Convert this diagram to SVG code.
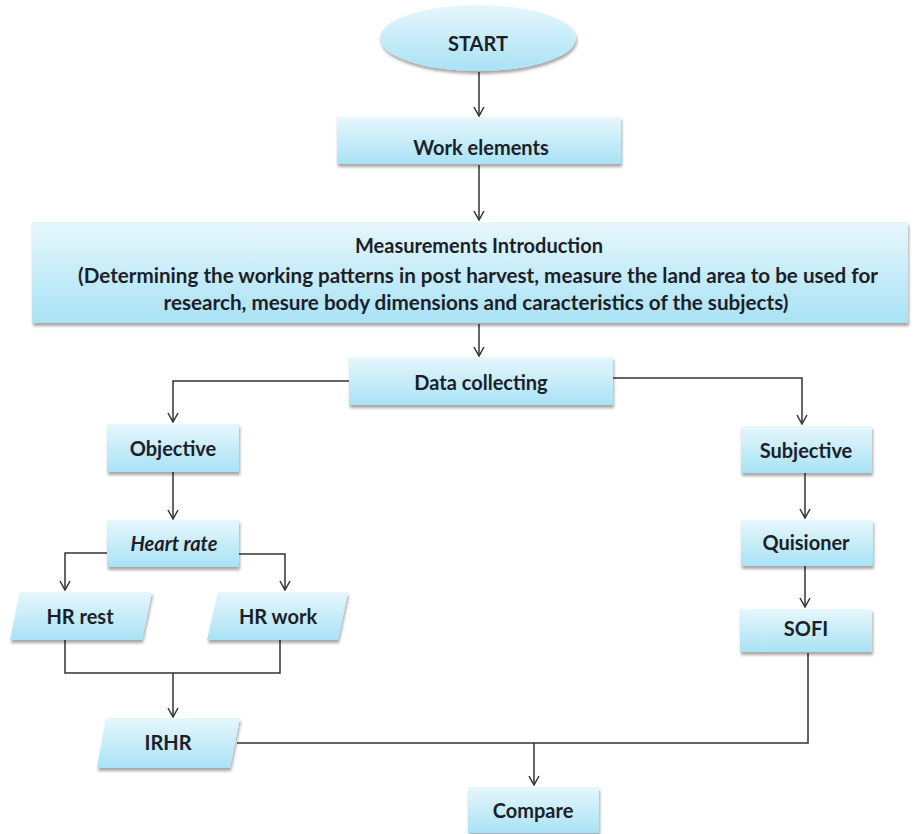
<svg xmlns="http://www.w3.org/2000/svg" width="915" height="834" viewBox="0 0 915 834">
<defs>
<linearGradient id="fill" x1="0" y1="0" x2="0" y2="1">
<stop offset="0" stop-color="#e6f7fc"/>
<stop offset="1" stop-color="#a9e2f5"/>
</linearGradient>
<filter id="sh" x="-10%" y="-20%" width="120%" height="150%">
<feDropShadow dx="1" dy="3" stdDeviation="1.5" flood-color="#000" flood-opacity="0.35"/>
</filter>
<marker id="arr" viewBox="-1 -6 11 12" refX="9" refY="0" markerWidth="11" markerHeight="12" markerUnits="userSpaceOnUse" orient="auto">
<path d="M0,-5 L9,0 L0,5" fill="none" stroke="#333" stroke-width="1.5"/>
</marker>
</defs>
<style>
.n{fill:url(#fill);filter:url(#sh);}
.t{font-family:Lato,"Open Sans",sans-serif;font-weight:bold;font-size:20px;fill:#1c1f2a;text-anchor:middle;}
.c{fill:none;stroke:#333;stroke-width:1.5;}
</style>
<rect width="915" height="834" fill="#fff"/>
<g id="connectors">
<path class="c" d="M479,72 V116" marker-end="url(#arr)"/>
<path class="c" d="M479,165 V220" marker-end="url(#arr)"/>
<path class="c" d="M479,324 V356" marker-end="url(#arr)"/>
<path class="c" d="M349,381 H173 V422" marker-end="url(#arr)"/>
<path class="c" d="M613,378 H802 V424" marker-end="url(#arr)"/>
<path class="c" d="M173,472 V519" marker-end="url(#arr)"/>
<path class="c" d="M107,553 H65 V590" marker-end="url(#arr)"/>
<path class="c" d="M239,554 H285 V590" marker-end="url(#arr)"/>
<path class="c" d="M65,640 V673 H280 V640"/>
<path class="c" d="M173,673 V717" marker-end="url(#arr)"/>
<path class="c" d="M805,473 V518" marker-end="url(#arr)"/>
<path class="c" d="M805,566 V607" marker-end="url(#arr)"/>
<path class="c" d="M237,743 H808 V653"/>
<path class="c" d="M534,743 V785" marker-end="url(#arr)"/>
</g>
<g id="start">
<ellipse class="n" cx="478" cy="38" rx="98" ry="33"/>
<text class="t" x="478" y="51">START</text>
</g>
<g id="work-elements">
<rect class="n" x="337" y="117" width="284" height="47"/>
<text class="t" x="481" y="155">Work elements</text>
</g>
<g id="measurements">
<rect class="n" x="32" y="222" width="876" height="101"/>
<text class="t" x="479" y="253">Measurements Introduction</text>
<text class="t" x="478" y="283" textLength="800" lengthAdjust="spacingAndGlyphs">(Determining the working patterns in post harvest, measure the land area to be used for</text>
<text class="t" x="476" y="310" textLength="625" lengthAdjust="spacingAndGlyphs">research, mesure body dimensions and caracteristics of the subjects)</text>
</g>
<g id="data-collecting">
<rect class="n" x="349" y="357" width="264" height="48"/>
<text class="t" x="481" y="390">Data collecting</text>
</g>
<g id="objective">
<rect class="n" x="107" y="424" width="132" height="48"/>
<text class="t" x="173" y="456">Objective</text>
</g>
<g id="heart-rate">
<rect class="n" x="107" y="520" width="132" height="47"/>
<text class="t" x="174" y="551" font-style="italic">Heart rate</text>
</g>
<g id="hr-rest">
<polygon class="n" points="20,592 152,592 142,640 10,640"/>
<text class="t" x="80" y="624">HR rest</text>
</g>
<g id="hr-work">
<polygon class="n" points="218,592 348,592 338,640 207,640"/>
<text class="t" x="278" y="624">HR work</text>
</g>
<g id="irhr">
<polygon class="n" points="106,718 240,718 230,768 97,768"/>
<text class="t" x="168" y="750">IRHR</text>
</g>
<g id="subjective">
<rect class="n" x="741" y="426" width="131" height="47"/>
<text class="t" x="806" y="458">Subjective</text>
</g>
<g id="quisioner">
<rect class="n" x="741" y="520" width="132" height="46"/>
<text class="t" x="806" y="550">Quisioner</text>
</g>
<g id="sofi">
<rect class="n" x="740" y="609" width="132" height="43"/>
<text class="t" x="806" y="636">SOFI</text>
</g>
<g id="compare">
<rect class="n" x="468" y="787" width="131" height="46"/>
<text class="t" x="533" y="818">Compare</text>
</g>
</svg>
